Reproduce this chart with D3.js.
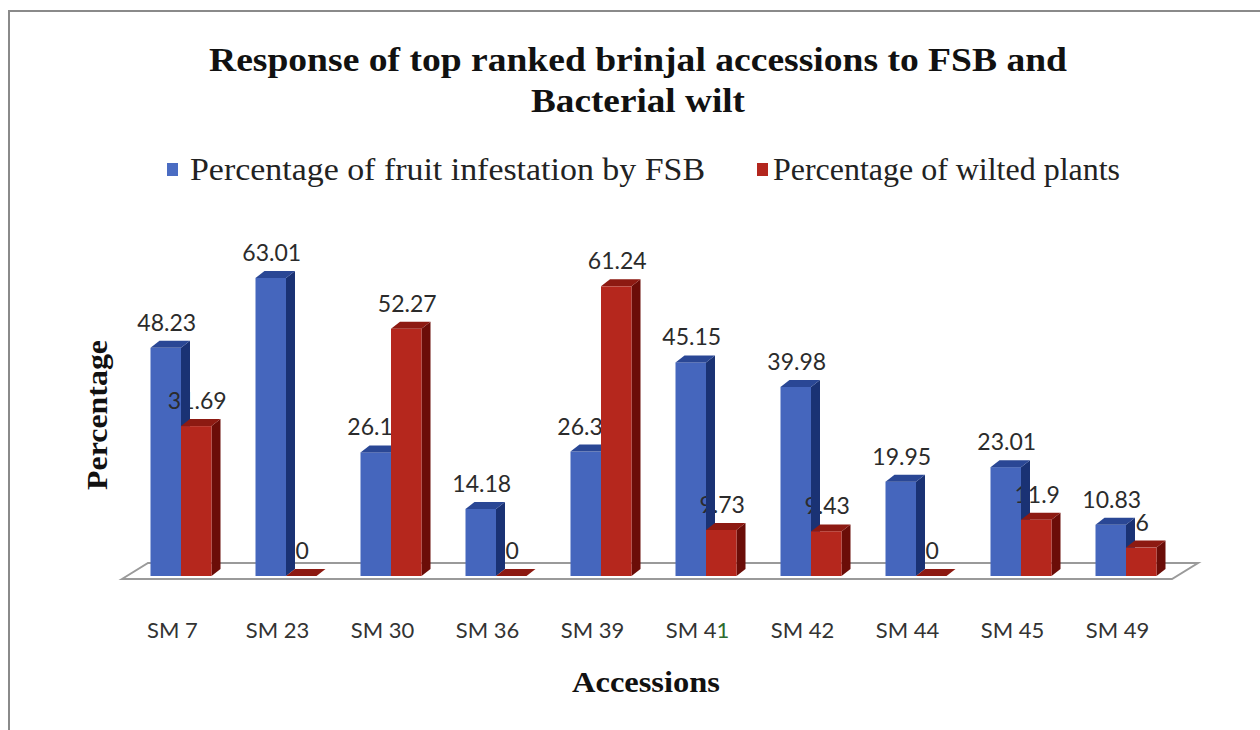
<!DOCTYPE html>
<html>
<head>
<meta charset="utf-8">
<script src="https://cdn.jsdelivr.net/npm/d3@7"></script>
<style>
  html, body { margin: 0; padding: 0; background: #ffffff; }
  svg { display: block; }
</style>
</head>
<body>
<svg id="chart" width="1260" height="730"></svg>
<script>
// Accessions and measured responses
const categories = ["SM 7", "SM 23", "SM 30", "SM 36", "SM 39", "SM 41", "SM 42", "SM 44", "SM 45", "SM 49"];
const seriesNames = ["Percentage of fruit infestation by FSB", "Percentage of wilted plants"];
const fsbInfestation = [48.23, 63.01, 26.13, 14.18, 26.31, 45.15, 39.98, 19.95, 23.01, 10.83];
const wiltedPlants = [31.69, 0, 52.27, 0, 61.24, 9.73, 9.43, 0, 11.9, 6];
const valueDomain = [0, 70];

const W = 1260, H = 730;
const svg = d3.select("#chart");

// Palette: front / top / side faces of each 3D column
const faces = [
  { front: "#4566bd", top: "#2a4795", side: "#1a3274", legend: "#4a6cc2" },
  { front: "#b5271d", top: "#8d1a12", side: "#6b0d08", legend: "#b3261e" }
];

// Outer frame
svg.append("path")
  .attr("d", `M9,${H} L9,11 L${W},11`)
  .attr("fill", "none")
  .attr("stroke", "#8a8a8a")
  .attr("stroke-width", 2);

// Plot geometry
const floorFront = 579, floorLeft = 122, floorRight = 1172;
const depthX = 26, depthY = 16;        // floor depth
const barDX = 9, barDY = 7;            // column depth
const base = 576;                      // front-bottom of columns

const x = d3.scaleBand().domain(categories).range([floorLeft, floorRight]);
const inner = d3.scaleBand().domain(seriesNames).range([0, 61]);
const y = d3.scaleLinear().domain(valueDomain).range([base, base - 4.73 * valueDomain[1]]);

// Floor of the 3D plot
svg.append("path")
  .attr("d", `M${floorLeft},${floorFront} L${floorLeft + depthX},${floorFront - depthY} L${floorRight + depthX},${floorFront - depthY} L${floorRight},${floorFront} Z`)
  .attr("fill", "#ffffff")
  .attr("stroke", "#9a9a9a")
  .attr("stroke-width", 2);

// Build the column records
const bars = [];
categories.forEach((c, i) => {
  [fsbInfestation[i], wiltedPlants[i]].forEach((v, s) => {
    const x0 = x(c) + x.bandwidth() / 2 + 6.5 - 30.5 + inner(seriesNames[s]);
    bars.push({ cat: c, s, v, x0, w: inner.bandwidth() });
  });
});

const sidePath = d => {
  const t = y(d.v), r = d.x0 + d.w;
  return `M${r},${t} L${r + barDX},${t - barDY} L${r + barDX},${base - barDY} L${r},${base} Z`;
};
const topPath = d => {
  const t = y(d.v), l = d.x0, r = d.x0 + d.w;
  return `M${l},${t} L${l + barDX},${t - barDY} L${r + barDX},${t - barDY} L${r},${t} Z`;
};

// Layer 1: front faces of the FSB columns
svg.append("g").selectAll("rect")
  .data(bars.filter(d => d.s === 0))
  .join("rect")
  .attr("x", d => d.x0)
  .attr("y", d => y(d.v))
  .attr("width", d => d.w)
  .attr("height", d => base - y(d.v))
  .attr("fill", d => faces[d.s].front);

// Layer 2: value labels
const labelG = svg.append("g")
  .attr("font-family", "Lato, 'Open Sans', sans-serif")
  .attr("font-size", 23)
  .attr("fill", "#2b2b2b")
  .attr("text-anchor", "middle");

labelG.selectAll("text")
  .data(bars)
  .join("text")
  .attr("x", d => d.x0 + d.w / 2 + 1)
  .attr("y", d => y(d.v) - 17)
  .text(d => d3.format("")(d.v));

// Layer 3: remaining faces, FSB sides/tops then the wilt columns in front
const barG = svg.append("g");
bars.forEach(d => {
  const g = barG.append("g").datum(d);
  g.append("path").attr("d", sidePath).attr("fill", faces[d.s].side);
  g.append("path").attr("d", topPath).attr("fill", faces[d.s].top);
  if (d.s === 1) {
    g.append("rect")
      .attr("x", d.x0)
      .attr("y", y(d.v))
      .attr("width", d.w)
      .attr("height", base - y(d.v))
      .attr("fill", faces[d.s].front);
  }
});

// Category labels
const catG = svg.append("g")
  .attr("font-family", "Lato, 'Open Sans', sans-serif")
  .attr("font-size", 22)
  .attr("fill", "#333333")
  .attr("text-anchor", "middle");
catG.selectAll("text")
  .data(categories)
  .join("text")
  .attr("x", d => x(d) + x.bandwidth() / 2 - 2)
  .attr("y", 638)
  .each(function (d) {
    const t = d3.select(this);
    if (d === "SM 41") {
      t.append("tspan").text("SM 4");
      t.append("tspan").attr("fill", "#2e6b2e").text("1");
    } else {
      t.text(d);
    }
  });

// Title
const title = svg.append("g")
  .attr("font-family", "'Liberation Serif', 'Times New Roman', serif")
  .attr("font-weight", "bold")
  .attr("font-size", 34)
  .attr("fill", "#111111")
  .attr("text-anchor", "middle");
title.append("text").attr("x", 638).attr("y", 71)
  .attr("textLength", 858).attr("lengthAdjust", "spacingAndGlyphs")
  .text("Response of top ranked brinjal accessions to FSB and");
title.append("text").attr("x", 638).attr("y", 112)
  .attr("textLength", 214).attr("lengthAdjust", "spacingAndGlyphs")
  .text("Bacterial wilt");

// Legend
const legendItems = [
  { name: seriesNames[0], sx: 167, tx: 190, len: 515 },
  { name: seriesNames[1], sx: 757, tx: 773, len: 347 }
];
const legend = svg.append("g")
  .attr("font-family", "'Liberation Serif', 'Times New Roman', serif")
  .attr("font-size", 31)
  .attr("fill", "#222222");
legendItems.forEach((item, i) => {
  legend.append("rect")
    .attr("x", item.sx).attr("y", 163)
    .attr("width", 11).attr("height", 13)
    .attr("fill", faces[i].legend);
  legend.append("text")
    .attr("x", item.tx).attr("y", 180)
    .attr("textLength", item.len).attr("lengthAdjust", "spacingAndGlyphs")
    .text(item.name);
});

// Axis titles
svg.append("text")
  .attr("transform", "translate(107,415) rotate(-90)")
  .attr("text-anchor", "middle")
  .attr("font-family", "'Liberation Serif', 'Times New Roman', serif")
  .attr("font-weight", "bold")
  .attr("font-size", 29)
  .attr("fill", "#111111")
  .attr("textLength", 150).attr("lengthAdjust", "spacingAndGlyphs")
  .text("Percentage");

svg.append("text")
  .attr("x", 646).attr("y", 692)
  .attr("text-anchor", "middle")
  .attr("font-family", "'Liberation Serif', 'Times New Roman', serif")
  .attr("font-weight", "bold")
  .attr("font-size", 29)
  .attr("fill", "#111111")
  .attr("textLength", 148).attr("lengthAdjust", "spacingAndGlyphs")
  .text("Accessions");
</script>
</body>
</html>
